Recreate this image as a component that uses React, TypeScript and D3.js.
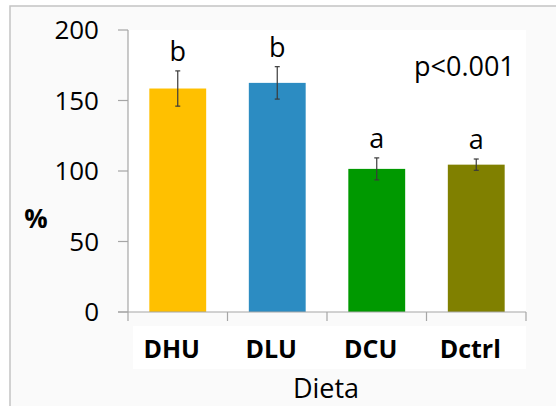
import React, { useEffect, useRef } from 'react';
import * as d3 from 'd3';

const categories = ['DHU', 'DLU', 'DCU', 'Dctrl'];
const means = [158.5, 162.5, 101.5, 104.5];
const errors = [12.5, 11.5, 7.8, 4.0];
const letters = ['b', 'b', 'a', 'a'];
const colors = ['#FFC000', '#2C8CC2', '#009900', '#808000'];
const yTicks = [0, 50, 100, 150, 200];

const App = () => {
  const svgRef = useRef(null);

  useEffect(() => {
    const svg = d3.select(svgRef.current);
    svg.selectAll('*').remove();
    const font = '"Open Sans", "Liberation Sans", sans-serif';

    // frame + background
    svg.append('rect').attr('x', 0).attr('y', 0).attr('width', 556).attr('height', 406).attr('fill', '#ffffff');
    svg.append('rect').attr('x', 10).attr('y', 6).attr('width', 560).attr('height', 420)
      .attr('fill', '#fafafa').attr('stroke', '#c4c4c4').attr('stroke-width', 1.5);

    const left = 128, right = 526, top = 30, bottom = 312;
    svg.append('rect').attr('x', left).attr('y', top).attr('width', right - left).attr('height', bottom - top).attr('fill', '#ffffff');
    svg.append('rect').attr('x', 133).attr('y', 326).attr('width', right - 133).attr('height', 43).attr('fill', '#ffffff');

    const x = d3.scaleBand().domain(categories).range([left, right]).paddingInner(0.4286).paddingOuter(0.2143);
    const xTick = d3.scaleBand().domain(categories).range([left, right]);
    const y = d3.scaleLinear().domain([0, 200]).range([bottom, top]);

    const g = svg.append('g');

    // bars
    g.selectAll('.bar').data(categories).enter().append('rect')
      .attr('x', (d) => x(d))
      .attr('y', (d, i) => y(means[i]))
      .attr('width', x.bandwidth())
      .attr('height', (d, i) => y(0) - y(means[i]))
      .attr('fill', (d, i) => colors[i]);

    // error bars
    categories.forEach((c, i) => {
      const cx = x(c) + x.bandwidth() / 2;
      const hi = y(means[i] + errors[i]);
      const lo = y(means[i] - errors[i]);
      g.append('line').attr('x1', cx).attr('x2', cx).attr('y1', hi).attr('y2', lo).attr('stroke', '#3a3a3a').attr('stroke-width', 1.2);
      [hi, lo].forEach((yy) => {
        g.append('line').attr('x1', cx - 2.5).attr('x2', cx + 2.5).attr('y1', yy).attr('y2', yy).attr('stroke', '#3a3a3a').attr('stroke-width', 1.2);
      });
      g.append('text')
        .attr('x', cx)
        .attr('y', y(means[i] + errors[i]) - 10)
        .attr('text-anchor', 'middle')
        .attr('font-family', font)
        .attr('font-size', 27)
        .attr('fill', '#000')
        .text(letters[i]);
    });

    // y axis
    const axisColor = '#a6a6a6';
    svg.append('line').attr('x1', left).attr('x2', left).attr('y1', top).attr('y2', bottom).attr('stroke', axisColor).attr('stroke-width', 1.2);
    yTicks.forEach((t) => {
      svg.append('line').attr('x1', left - 10).attr('x2', left).attr('y1', y(t)).attr('y2', y(t)).attr('stroke', axisColor).attr('stroke-width', 1.2);
      svg.append('text')
        .attr('x', 99)
        .attr('y', y(t))
        .attr('dy', '0.36em')
        .attr('text-anchor', 'end')
        .attr('font-family', font)
        .attr('font-size', 26)
        .attr('fill', '#000')
        .text(t);
    });

    // x axis
    svg.append('line').attr('x1', left - 10).attr('x2', right).attr('y1', bottom).attr('y2', bottom).attr('stroke', axisColor).attr('stroke-width', 1.2);
    [...categories.map((c) => xTick(c)), right].forEach((xx) => {
      svg.append('line').attr('x1', xx).attr('x2', xx).attr('y1', bottom).attr('y2', bottom + 9).attr('stroke', axisColor).attr('stroke-width', 1.2);
    });
    categories.forEach((c) => {
      svg.append('text')
        .attr('x', x(c) + x.bandwidth() / 2 - 6)
        .attr('y', 358)
        .attr('text-anchor', 'middle')
        .attr('font-family', font)
        .attr('font-weight', 'bold')
        .attr('font-size', 25)
        .attr('fill', '#000')
        .text(c);
    });

    svg.append('text').attr('x', 326).attr('y', 398).attr('text-anchor', 'middle')
      .attr('font-family', font).attr('font-size', 27).attr('fill', '#000').text('Dieta');

    svg.append('text').attr('x', 36).attr('y', 228).attr('text-anchor', 'middle')
      .attr('font-family', font).attr('font-weight', 'bold').attr('font-size', 26).attr('fill', '#000').text('%');

    svg.append('text').attr('x', 414).attr('y', 76)
      .attr('font-family', font).attr('font-size', 27).attr('fill', '#000').text('p<0.001');
  }, []);

  return <svg ref={svgRef} width={556} height={406} style={{ position: 'absolute', left: 0, top: 0 }}></svg>;
};

export default App;
